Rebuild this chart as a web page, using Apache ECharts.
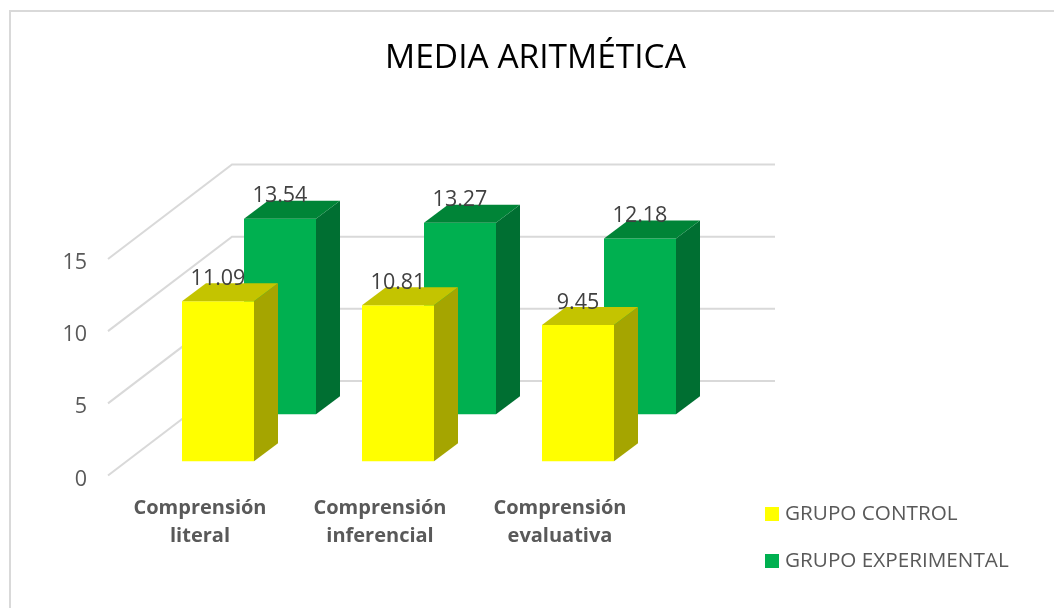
<!DOCTYPE html>
<html>
<head>
<meta charset="utf-8">
<style>html,body{margin:0;padding:0;background:#fff}#c{width:1054px;height:608px}</style>
<script src="https://cdn.jsdelivr.net/npm/echarts@6/dist/echarts.min.js"></script>
</head>
<body>
<div id="c"></div>
<script>
const titleText = 'MEDIA ARITMÉTICA';
const categories = ['Comprensión\nliteral', 'Comprensión\ninferencial', 'Comprensión\nevaluativa'];
const grupoControl = [11.09, 10.81, 9.45];
const grupoExperimental = [13.54, 13.27, 12.18];
const yTicks = [0, 5, 10, 15];
const FONT = '"Open Sans", sans-serif';

function barSeries(name, values, colors, shiftX, shiftY, z) {
  return {
    type: 'custom', name: name, z: z, itemStyle: { color: colors.front },
    encode: { x: 0, y: 1 },
    data: values.map((v, i) => [i, v]),
    renderItem(params, api) {
      const top = api.coord([api.value(0), api.value(1)]);
      const base = api.coord([api.value(0), 0]);
      const w = 72, dx = 24, dy = 18;
      const l = top[0] + shiftX - w / 2, r = l + w;
      const t = top[1] - shiftY, b = base[1] - shiftY;
      return {
        type: 'group',
        children: [
          { type: 'polygon', shape: { points: [[l, t], [r, t], [r, b], [l, b]] }, style: { fill: colors.front } },
          { type: 'polygon', shape: { points: [[r, t], [r + dx, t - dy], [r + dx, b - dy], [r, b]] }, style: { fill: colors.side } },
          { type: 'polygon', shape: { points: [[l, t], [l + dx, t - dy], [r + dx, t - dy], [r, t]] }, style: { fill: colors.top } },
          { type: 'text', z2: 10, style: { x: (l + r) / 2, y: t - 22.5, text: api.value(1).toFixed(2), fill: '#404040',
            font: '400 21.5px ' + FONT, textAlign: 'center', textVerticalAlign: 'middle' } }
        ]
      };
    }
  };
}

const chart = echarts.init(document.getElementById('c'), null, { renderer: 'canvas' });
chart.setOption({
  animation: false,
  backgroundColor: '#fff',
  graphic: [{ type: 'rect', z: -1, shape: { x: 10, y: 11, width: 1200, height: 800 },
    style: { fill: 'none', stroke: '#d9d9d9', lineWidth: 2 } }],
  title: { text: titleText, left: 530.5, top: 36, textAlign: 'center',
    textStyle: { fontFamily: FONT, fontWeight: 400, fontSize: 33.5, color: '#000' } },
  legend: {
    orient: 'vertical', left: 760, top: 495, itemWidth: 14, itemHeight: 14, itemGap: 19, icon: 'rect',
    data: ['GRUPO CONTROL', 'GRUPO EXPERIMENTAL'], selectedMode: false,
    textStyle: { fontFamily: FONT, fontSize: 20.7, lineHeight: 28, color: '#595959', padding: [0, 0, 0, 1] }
  },
  grid: { left: 110, top: 259, width: 540, height: 216.5, containLabel: false },
  xAxis: { type: 'category', data: categories, axisLine: { show: false }, axisTick: { show: false }, splitLine: { show: false },
    axisLabel: { margin: 19, fontFamily: FONT, fontWeight: 700, fontSize: 20, lineHeight: 28, color: '#595959', interval: 0 } },
  yAxis: { type: 'value', min: 0, max: 15, interval: 5, axisLine: { show: false }, axisTick: { show: false }, splitLine: { show: false },
    axisLabel: { margin: 23, fontFamily: FONT, fontSize: 21.5, color: '#595959', verticalAlign: 'top', lineHeight: 8 } },
  series: [
    {
      type: 'custom', z: 1, silent: true, encode: { y: 0 }, data: yTicks.map(v => [v]),
      renderItem(params, api) {
        const cs = params.coordSys;
        const y = api.coord([0, api.value(0)])[1];
        const x0 = cs.x - 2, x1 = cs.x + 122, x2 = cs.x + 665, dy = 94.5;
        return { type: 'polyline', shape: { points: [[x0, y], [x1, y - dy], [x2, y - dy]] },
          style: { fill: 'none', stroke: '#d9d9d9', lineWidth: 2 } };
      }
    },
    barSeries('GRUPO EXPERIMENTAL', grupoExperimental, { front: '#00B050', side: '#006F32', top: '#008437' }, 80, 61.2, 2),
    barSeries('GRUPO CONTROL', grupoControl, { front: '#FFFF00', side: '#A5A500', top: '#C4C400' }, 18, 14.2, 3)
  ]
});
</script>
</body>
</html>
